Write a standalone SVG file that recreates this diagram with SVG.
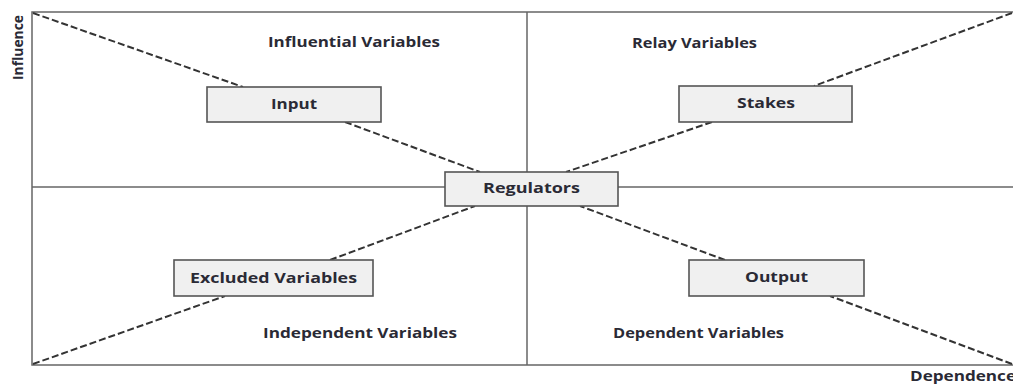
<svg xmlns="http://www.w3.org/2000/svg" width="1013" height="385" viewBox="0 0 1013 385">
<style>
.t{font-family:"Open Sans","Liberation Sans",sans-serif;font-weight:bold;font-size:14px;fill:#2a2a35}
.box{fill:#f0f0f0;stroke:#555;stroke-width:1.6}
.axis{fill:none;stroke:#666;stroke-width:1.5}
.dash{fill:none;stroke:#333;stroke-width:2;stroke-dasharray:7 3}
</style>
<rect width="1013" height="385" fill="#fff"/>
<g id="frame">
<polyline class="axis" points="1013,12 32,12 32,365 1013,365"/>
<line class="axis" x1="527" y1="12" x2="527" y2="365"/>
<line class="axis" x1="32" y1="187" x2="1013" y2="187"/>
</g>
<g id="connectors">
<line class="dash" x1="33" y1="13" x2="243" y2="87"/>
<line class="dash" x1="345" y1="122" x2="480" y2="172"/>
<line class="dash" x1="1012" y1="13" x2="814" y2="86"/>
<line class="dash" x1="712" y1="122" x2="566" y2="172"/>
<line class="dash" x1="33" y1="364" x2="225" y2="296"/>
<line class="dash" x1="330" y1="260" x2="475" y2="206"/>
<line class="dash" x1="1012" y1="364" x2="830" y2="296"/>
<line class="dash" x1="725" y1="260" x2="580" y2="206"/>
</g>
<g id="input"><rect class="box" x="207" y="87" width="174" height="35"/><text class="t" x="271" y="109" textLength="46" lengthAdjust="spacingAndGlyphs">Input</text></g>
<g id="stakes"><rect class="box" x="679" y="86" width="173" height="36"/><text class="t" x="737" y="108" textLength="58" lengthAdjust="spacingAndGlyphs">Stakes</text></g>
<g id="regulators"><rect class="box" x="445" y="172" width="173" height="34"/><text class="t" x="483" y="193" textLength="97" lengthAdjust="spacingAndGlyphs">Regulators</text></g>
<g id="excluded"><rect class="box" x="174" y="260" width="199" height="36"/><text class="t" x="190" y="283" textLength="167" lengthAdjust="spacingAndGlyphs">Excluded Variables</text></g>
<g id="output"><rect class="box" x="689" y="260" width="175" height="36"/><text class="t" x="745" y="282" textLength="63" lengthAdjust="spacingAndGlyphs">Output</text></g>
<g id="labels">
<text class="t" x="268" y="47" textLength="172" lengthAdjust="spacingAndGlyphs">Influential Variables</text>
<text class="t" x="632" y="48" textLength="125" lengthAdjust="spacingAndGlyphs">Relay Variables</text>
<text class="t" x="263" y="338" textLength="194" lengthAdjust="spacingAndGlyphs">Independent Variables</text>
<text class="t" x="613" y="338" textLength="171" lengthAdjust="spacingAndGlyphs">Dependent Variables</text>
<text class="t" x="23" y="80" font-size="12" textLength="65" lengthAdjust="spacingAndGlyphs" transform="rotate(-90 23 80)">Influence</text>
<text class="t" x="910" y="381" font-size="13" textLength="106" lengthAdjust="spacingAndGlyphs">Dependence</text>
</g>
</svg>
